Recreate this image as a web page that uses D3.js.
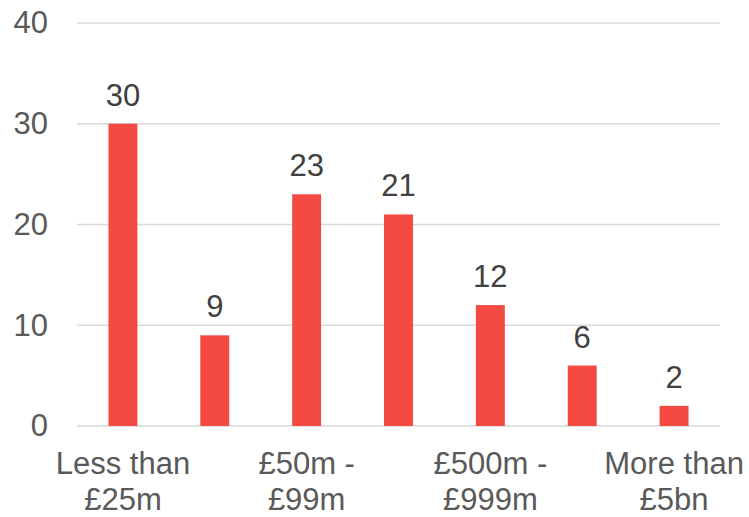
<!DOCTYPE html>
<html lang="en">
<head>
  <meta charset="UTF-8">
  <title>Companies by turnover band</title>
  <script src="https://d3js.org/d3.v7.min.js"></script>
  <style>
    body {
      margin: 0;
      font-family: "Liberation Sans", Arial, sans-serif;
      background: #fff;
    }
  </style>
</head>
<body>
  <div id="chart"></div>

  <script>
    // Dữ liệu
    const categories = ["Less than £25m", "£25m - £49m", "£50m - £99m", "£100m - £499m",
                        "£500m - £999m", "£1bn - £5bn", "More than £5bn"];
    const values = [30, 9, 23, 21, 12, 6, 2];
    const yTicks = [0, 10, 20, 30, 40];
    // only every other category label fits under the axis
    const shownLabels = [["Less than", "£25m"], null, ["£50m -", "£99m"], null,
                         ["£500m -", "£999m"], null, ["More than", "£5bn"]];

    const W = 749, H = 517;
    const margin = {top: 23, right: 29, bottom: 91, left: 77},
          width = W - margin.left - margin.right,
          height = H - margin.top - margin.bottom;

    const svg = d3.select("#chart")
                  .append("svg")
                  .attr("width", W)
                  .attr("height", H)
                  .append("g")
                  .attr("transform", `translate(${margin.left},${margin.top})`);

    const x = d3.scaleBand()
                .domain(categories)
                .range([0, width])
                .paddingInner(0.685)
                .paddingOuter(0.3425);

    const y = d3.scaleLinear()
                .domain([0, 40])
                .range([height, 0]);

    // gridlines
    svg.append("g")
       .selectAll("line")
       .data(yTicks)
       .enter()
       .append("line")
       .attr("x1", 0)
       .attr("x2", width)
       .attr("y1", d => y(d))
       .attr("y2", d => y(d))
       .attr("stroke", "#d9d9d9")
       .attr("stroke-width", 1.5);

    // y axis (no domain line, no ticks)
    const yAxis = d3.axisLeft(y).tickValues(yTicks).tickSize(0).tickPadding(29);
    const gy = svg.append("g").call(yAxis);
    gy.select(".domain").remove();
    gy.selectAll("text")
      .attr("fill", "#595959")
      .style("font-size", "31px")
      .style("font-family", "'Liberation Sans', Arial, sans-serif");

    // bars
    svg.selectAll(".bar")
       .data(values)
       .enter()
       .append("rect")
       .attr("class", "bar")
       .attr("x", (d, i) => x(categories[i]))
       .attr("y", d => y(d))
       .attr("width", x.bandwidth())
       .attr("height", d => height - y(d))
       .attr("fill", "#f44a41");

    // value labels
    svg.selectAll(".label")
       .data(values)
       .enter()
       .append("text")
       .attr("class", "label")
       .attr("x", (d, i) => x(categories[i]) + x.bandwidth() / 2)
       .attr("y", d => y(d) - 18)
       .attr("text-anchor", "middle")
       .attr("fill", "#404040")
       .style("font-size", "31px")
       .text(d => d);

    // x labels, two lines each
    const xl = svg.append("g")
                  .selectAll("text")
                  .data(categories.filter((c, i) => shownLabels[i]))
                  .enter()
                  .append("text")
                  .attr("text-anchor", "middle")
                  .attr("fill", "#595959")
                  .style("font-size", "31px")
                  .attr("transform", d => `translate(${x(d) + x.bandwidth() / 2},${height + 48})`);

    xl.selectAll("tspan")
      .data(d => shownLabels[categories.indexOf(d)])
      .enter()
      .append("tspan")
      .attr("x", 0)
      .attr("y", (d, i) => i * 36)
      .text(d => d);
  </script>
</body>
</html>
